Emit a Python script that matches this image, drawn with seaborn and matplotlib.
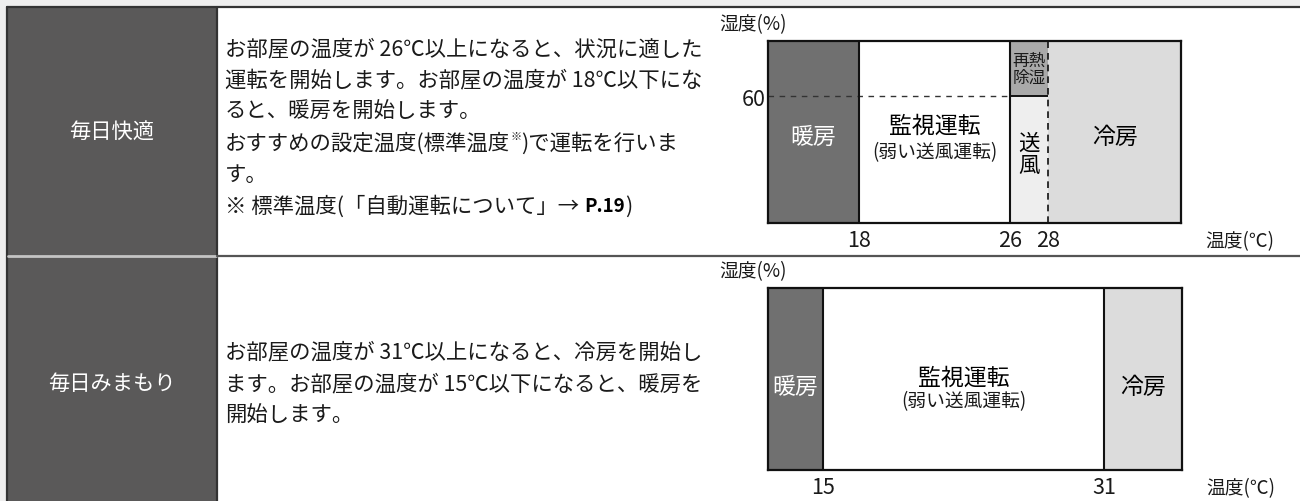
import matplotlib
matplotlib.use("Agg")
import matplotlib.pyplot as plt
import seaborn as sns

sns.set_theme(style="white")
CJK = ['Noto Sans CJK JP', 'DejaVu Sans']
NUM = ['Liberation Sans Narrow', 'Noto Sans CJK JP', 'DejaVu Sans']
plt.rcParams['font.family'] = CJK

# ---------------- data ----------------
modes = ["毎日快適", "毎日みまもり"]

desc_comfort = [
    "お部屋の温度が 26℃以上になると、状況に適した",
    "運転を開始します。お部屋の温度が 18℃以下にな",
    "ると、暖房を開始します。",
    None,  # line with superscript (built below)
    "す。",
    None,  # footnote line (built below)
]
desc_comfort_l4 = ["おすすめの設定温度(標準温度", "※", ")で運転を行いま"]
desc_comfort_l6 = ["※ 標準温度(「自動運転について」→ ", "P.19", ")"]

desc_watch = [
    "お部屋の温度が 31℃以上になると、冷房を開始し",
    "ます。お部屋の温度が 15℃以下になると、暖房を",
    "開始します。",
]

# chart 1 (毎日快適): temperature / humidity zones
c1_xlim = (13.2, 35.0)
c1_ylim = (0, 86)
c1_zone_names = ["暖房", "監視運転", "送風", "再熱除湿", "冷房"]
c1_zone_left = [13.2, 18, 26, 26, 28]
c1_zone_right = [18, 26, 28, 28, 35.0]
c1_zone_bottom = [0, 0, 0, 60, 0]
c1_zone_top = [86, 86, 60, 86, 86]
c1_xticks = [18, 26, 28]
c1_yticks = [60]

# chart 2 (毎日みまもり)
c2_xlim = (11.9, 35.4)
c2_ylim = (0, 86)
c2_zone_names = ["暖房", "監視運転", "冷房"]
c2_zone_left = [11.9, 15, 31]
c2_zone_right = [15, 31, 35.4]
c2_xticks = [15, 31]

zone_colors = {"暖房": "#707070", "監視運転": "#ffffff", "送風": "#eeeeee",
               "再熱除湿": "#a9a9a9", "冷房": "#dcdcdc"}

# ---------------- figure ----------------
W, H = 1300, 502
fig = plt.figure(figsize=(W / 100, H / 100), dpi=100)
fig.patch.set_facecolor("#eeeeee")

bg = fig.add_axes([0, 0, 1, 1])
bg.set_xlim(0, W)
bg.set_ylim(H, 0)
bg.axis("off")
bg.add_patch(plt.Rectangle((7, 8), W - 7, H - 8, facecolor="white", edgecolor="none", zorder=0))
bg.add_patch(plt.Rectangle((7, 8), 210, H - 8, facecolor="#5a5959", edgecolor="none", zorder=1))
bg.plot([7, W], [8, 8], color="#333333", lw=1.6, zorder=3)
bg.plot([7, 7], [8, H], color="#333333", lw=1.6, zorder=3)
bg.plot([217, 217], [8, H], color="#333333", lw=1.6, zorder=3)
bg.plot([8, 216], [257, 257], color="#c4c4c4", lw=2.0, zorder=3)
bg.plot([217, W], [257, 257], color="#555555", lw=1.6, zorder=3)

# mode names
bg.text(112, 133, modes[0], color="white", fontsize=15.3, ha="center", va="center", zorder=4)
bg.text(112, 384, modes[1], color="white", fontsize=15.3, ha="center", va="center", zorder=4)

FS = 15.4
TC = "#1a1a1a"
x0 = 225
ys1 = [49, 80.5, 112, 143.5, 175, 206.5]
for y, line in zip(ys1, desc_comfort):
    if line is not None:
        bg.text(x0, y, line, fontsize=FS, ha="left", va="center", color=TC, zorder=4)

t_a = bg.text(x0, ys1[3], desc_comfort_l4[0], fontsize=FS, ha="left", va="center",
              color=TC, zorder=4)
t_b = bg.annotate(desc_comfort_l4[1], xy=(1, 0.58), xycoords=t_a, fontsize=8,
                  ha="left", va="bottom", color=TC, zorder=4)
bg.annotate(desc_comfort_l4[2], xy=(1, 0.5), xycoords=(t_b, t_a), fontsize=FS,
            ha="left", va="center", color=TC, zorder=4)

t_c = bg.text(x0, ys1[5], desc_comfort_l6[0], fontsize=FS, ha="left", va="center",
              color=TC, zorder=4)
t_d = bg.annotate(desc_comfort_l6[1], xy=(1, 0.5), xycoords=t_c, fontsize=13.5,
                  ha="left", va="center", color="#000000", fontweight="bold",
                  family=NUM, zorder=4)
bg.annotate(desc_comfort_l6[2], xy=(1, 0.5), xycoords=(t_d, t_c), fontsize=FS,
            ha="left", va="center", color=TC, zorder=4)

ys2 = [352, 384, 415.5]
for y, line in zip(ys2, desc_watch):
    bg.text(x0, y, line, fontsize=FS, ha="left", va="center", color=TC, zorder=4)


def setup_axes(ax, xlim, ylim, xticks, yticks):
    ax.set_xlim(*xlim)
    ax.set_ylim(*ylim)
    ax.set_xticks(xticks)
    ax.set_xticklabels([str(v) for v in xticks], fontsize=15.5, family=NUM, color=TC)
    ax.set_yticks(yticks)
    ax.set_yticklabels([str(v) for v in yticks], fontsize=15.5, family=NUM, color=TC)
    ax.tick_params(axis="x", length=0, pad=4)
    ax.tick_params(axis="y", length=0, pad=2)
    for s in ax.spines.values():
        s.set_visible(True)
        s.set_color("#111111")
        s.set_linewidth(1.6)
    ax.grid(False)
    ax.set_facecolor("white")
    ax.text(-0.036, 1.093, "湿度(%)", transform=ax.transAxes, fontsize=13.5,
            ha="center", va="center", color=TC)
    ax.text(1.143, -0.099, "温度(℃)", transform=ax.transAxes, fontsize=13.5,
            ha="center", va="center", color=TC)


# ---- chart 1 ----
ax1 = fig.add_axes([768 / W, (H - 224) / H, 413 / W, 182 / H])
for name, l, r, b, t in zip(c1_zone_names, c1_zone_left, c1_zone_right, c1_zone_bottom, c1_zone_top):
    ax1.bar(l, t - b, width=r - l, bottom=b, align="edge", color=zone_colors[name],
            edgecolor="none", zorder=1)
setup_axes(ax1, c1_xlim, c1_ylim, c1_xticks, c1_yticks)
ax1.hlines(c1_yticks[0], c1_xlim[0], c1_xticks[1], colors="#333333", linestyles=(0, (4, 4)),
           lw=1.0, zorder=2)
ax1.hlines(c1_yticks[0], c1_xticks[1], c1_xticks[2], colors="#111111", lw=1.4, zorder=2)
ax1.axvline(c1_xticks[0], color="#111111", lw=1.5, zorder=3)
ax1.axvline(c1_xticks[1], color="#111111", lw=1.5, zorder=3)
ax1.axvline(c1_xticks[2], color="#111111", lw=1.2, ls=(0, (4, 3)), zorder=3)

cx = [(l + r) / 2 for l, r in zip(c1_zone_left, c1_zone_right)]
ax1.text(cx[0], 41, "暖房", color="white", fontsize=16.5, ha="center", va="center")
ax1.text(cx[1], 46.3, "監視運転", color="#000000", fontsize=16.5, ha="center", va="center")
ax1.text(cx[1], 33.5, "(弱い送風運転)", color=TC, fontsize=13.5, ha="center", va="center")
ax1.text(cx[2], 32.6, "送\n風", color="#000000", fontsize=15.5, ha="center", va="center",
         linespacing=1.05)
ax1.text(cx[3], 73, "再熱\n除湿", color=TC, fontsize=12, ha="center", va="center",
         linespacing=1.0)
ax1.text(cx[4], 41, "冷房", color="#000000", fontsize=16.5, ha="center", va="center")

# ---- chart 2 ----
ax2 = fig.add_axes([768 / W, (H - 471) / H, 414 / W, 182 / H])
for name, l, r in zip(c2_zone_names, c2_zone_left, c2_zone_right):
    ax2.bar(l, c2_ylim[1], width=r - l, bottom=0, align="edge", color=zone_colors[name],
            edgecolor="none", zorder=1)
setup_axes(ax2, c2_xlim, c2_ylim, c2_xticks, [])
for v in c2_xticks:
    ax2.axvline(v, color="#111111", lw=1.5, zorder=3)
cx2 = [(l + r) / 2 for l, r in zip(c2_zone_left, c2_zone_right)]
ax2.text(cx2[0], 39.7, "暖房", color="white", fontsize=16.5, ha="center", va="center")
ax2.text(cx2[1], 44, "監視運転", color="#000000", fontsize=16.5, ha="center", va="center")
ax2.text(cx2[1], 32.6, "(弱い送風運転)", color=TC, fontsize=13.5, ha="center", va="center")
ax2.text(cx2[2], 39.7, "冷房", color="#000000", fontsize=16.5, ha="center", va="center")

fig.savefig("out.png", dpi=100, facecolor=fig.get_facecolor())
